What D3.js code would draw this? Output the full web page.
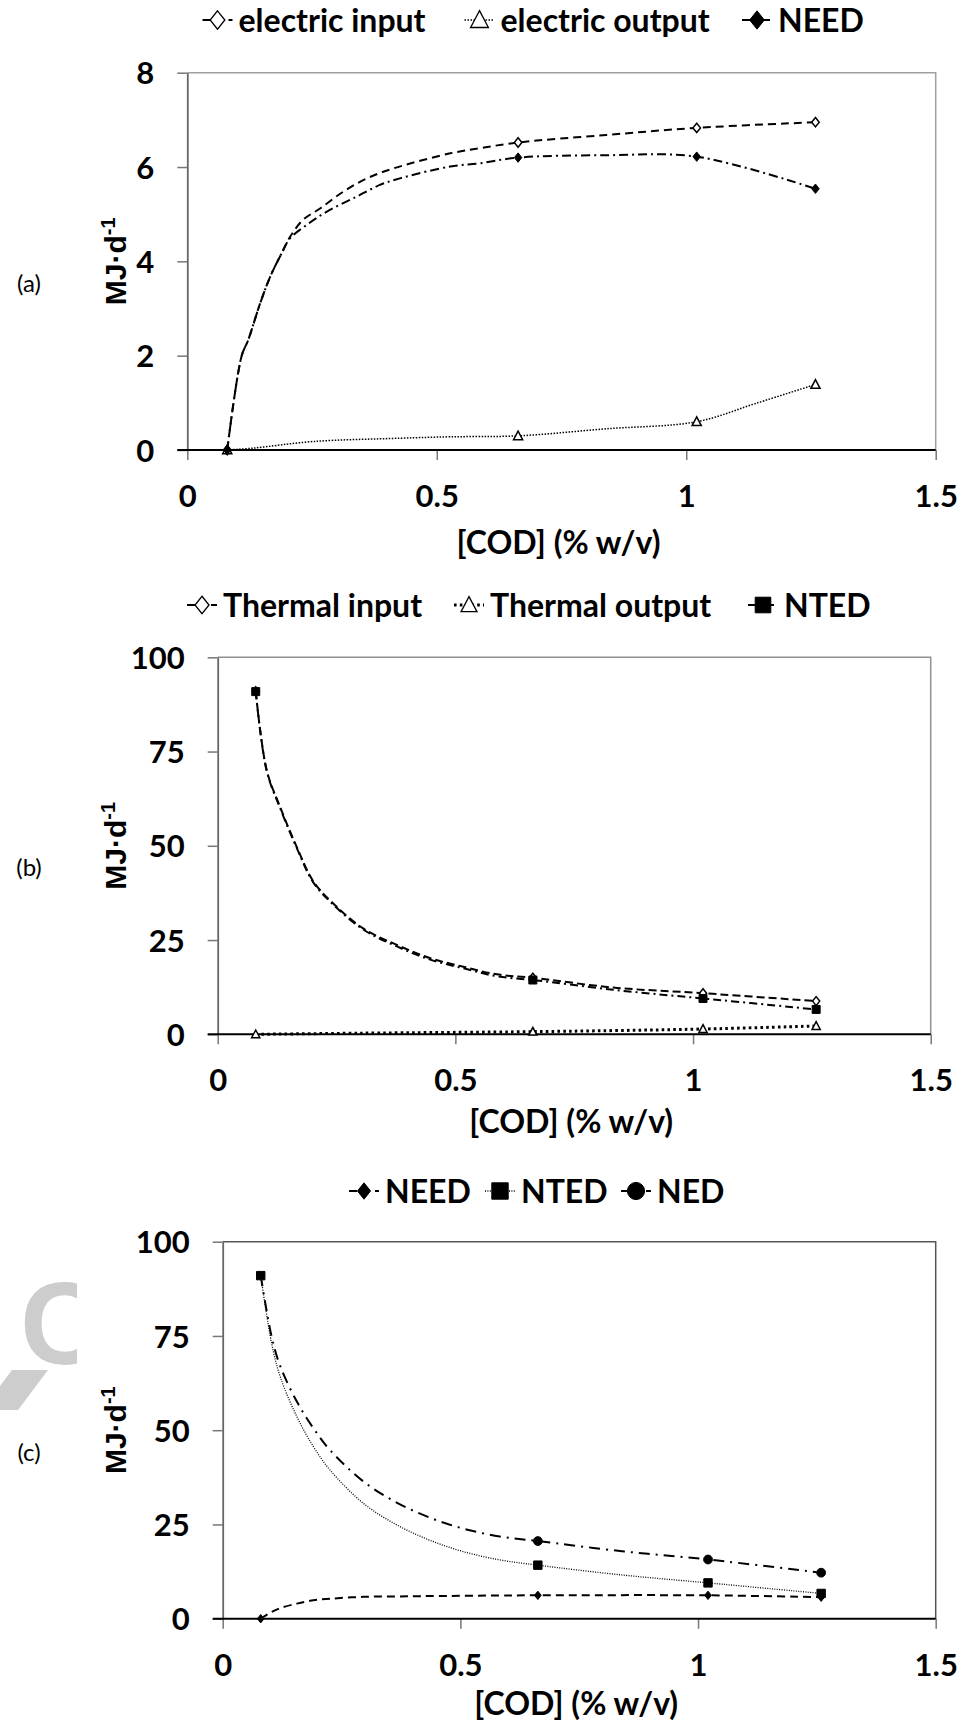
<!DOCTYPE html>
<html>
<head>
<meta charset="utf-8">
<script src="https://cdn.jsdelivr.net/npm/d3@7"></script>
<style>
  body { margin: 0; background: #fff; }
  svg { display: block; }
</style>
</head>
<body>
<svg id="chart" width="962" height="1726"></svg>
<script>
// measured COD concentrations (where the markers sit)
const codPoints = [0.08, 0.663, 1.021, 1.259];
const xTicks = [0, 0.5, 1, 1.5];

// (a) electric energy, markers
const elecInput = [0, 6.52, 6.83, 6.95];
const elecOutput = [0, 0.30, 0.60, 1.39];
const needA = [0, 6.20, 6.22, 5.54];
const yTicksA = [0, 2, 4, 6, 8];

// (a) smooth curves
const elecInputCurveX = [0.08, 0.109, 0.122, 0.146, 0.166, 0.189, 0.206, 0.232, 0.266, 0.313, 0.36, 0.413, 0.527, 0.587, 0.663, 0.84, 1.021, 1.259];
const elecInputCurveY = [0, 2.0, 2.33, 3.11, 3.67, 4.17, 4.52, 4.88, 5.12, 5.48, 5.76, 5.97, 6.29, 6.40, 6.52, 6.68, 6.83, 6.95];
const needACurveX = [0.08, 0.109, 0.122, 0.146, 0.166, 0.189, 0.206, 0.239, 0.279, 0.339, 0.386, 0.426, 0.527, 0.587, 0.663, 0.84, 1.021, 1.259];
const needACurveY = [0, 2.0, 2.33, 3.11, 3.67, 4.17, 4.49, 4.77, 5.05, 5.37, 5.62, 5.76, 6.01, 6.08, 6.20, 6.25, 6.22, 5.54];
const elecOutputCurveX = [0.08, 0.132, 0.253, 0.426, 0.527, 0.663, 0.84, 1.021, 1.14, 1.259];
const elecOutputCurveY = [0, 0.04, 0.18, 0.25, 0.28, 0.30, 0.45, 0.60, 0.99, 1.39];

// (b) thermal energy, markers
const thermInput = [91, 15.0, 10.9, 8.8];
const thermOutput = [0, 0.7, 1.4, 2.2];
const ntedB = [90.9, 14.4, 9.5, 6.6];
const yTicksB = [0, 25, 50, 75, 100];

// (b) curves
const thermInputCurveX = [0.08, 0.103, 0.131, 0.166, 0.201, 0.243, 0.306, 0.377, 0.447, 0.517, 0.587, 0.663, 0.832, 1.021, 1.259];
const thermInputCurveY = [91, 70.1, 60.4, 49.8, 40.6, 34.7, 28.1, 23.7, 20.2, 17.9, 15.9, 15.0, 12.4, 10.9, 8.8];
const ntedBCurveX = [0.08, 0.103, 0.131, 0.166, 0.201, 0.243, 0.306, 0.377, 0.447, 0.517, 0.587, 0.663, 0.832, 1.021, 1.259];
const ntedBCurveY = [90.9, 69.9, 60.1, 49.5, 40.3, 34.4, 27.8, 23.3, 19.8, 17.5, 15.4, 14.4, 11.8, 9.5, 6.6];
const thermOutputCurveX = [0.08, 0.3, 0.663, 0.84, 1.021, 1.259];
const thermOutputCurveY = [0, 0.3, 0.7, 1.0, 1.4, 2.2];

// (c) net energy, markers
const needC = [0, 6.2, 6.2, 5.7];
const ntedC = [91, 14.2, 9.5, 6.7];
const nedCodPoints = [0.663, 1.021, 1.259];
const nedC = [20.6, 15.7, 12.2];
const yTicksC = [0, 25, 50, 75, 100];

// (c) curves
const needCCurveX = [0.08, 0.103, 0.121, 0.156, 0.191, 0.226, 0.296, 0.366, 0.436, 0.583, 0.663, 1.021, 1.259];
const needCCurveY = [0, 1.8, 2.8, 4.0, 4.9, 5.3, 5.8, 5.9, 6.0, 6.15, 6.2, 6.2, 5.7];
const ntedCCurveX = [0.08, 0.103, 0.121, 0.156, 0.191, 0.226, 0.296, 0.366, 0.436, 0.506, 0.583, 0.663, 0.84, 1.021, 1.259];
const ntedCCurveY = [91, 73.0, 64.2, 53.6, 45.6, 39.4, 30.6, 24.9, 20.8, 17.8, 15.6, 14.2, 11.6, 9.5, 6.7];
const nedCCurveX = [0.08, 0.103, 0.121, 0.156, 0.191, 0.226, 0.296, 0.366, 0.436, 0.506, 0.583, 0.663, 0.84, 1.021, 1.259];
const nedCCurveY = [91, 74.8, 67.0, 57.6, 50.5, 44.7, 36.4, 30.8, 26.8, 23.9, 21.8, 20.6, 17.9, 15.7, 12.2];

const zip = (xs, ys) => xs.map((x, i) => [x, ys[i]]);

// marker shapes, size = radius squared
const shapes = {
  diamond: { draw(c, s) { const r = Math.sqrt(s); c.moveTo(0, -r); c.lineTo(r * 0.8, 0); c.lineTo(0, r); c.lineTo(-r * 0.8, 0); c.closePath(); } },
  triangle: { draw(c, s) { const r = Math.sqrt(s); c.moveTo(0, -r); c.lineTo(r * 0.95, r * 0.8); c.lineTo(-r * 0.95, r * 0.8); c.closePath(); } },
  square: { draw(c, s) { const r = Math.sqrt(s); c.rect(-r, -r, 2 * r, 2 * r); } },
  circle: { draw(c, s) { const r = Math.sqrt(s); c.moveTo(r, 0); c.arc(0, 0, r, 0, 2 * Math.PI); } }
};

const charts = [
  {
    label: "(a)", top: 72.7, bottom: 450, left: 187.3, right: 935.7, yMax: 8, yTicks: yTicksA,
    frame: "#a0a0a0", legendY: 20, titleGap: 92,
    series: [
      { name: "electric input", curve: zip(elecInputCurveX, elecInputCurveY), pts: zip(codPoints, elecInput), dash: "8,5", width: 2, marker: "diamond", r: 4.7, open: true, legendX: 217.5 },
      { name: "electric output", curve: zip(elecOutputCurveX, elecOutputCurveY), pts: zip(codPoints, elecOutput), dash: "1.5,1.5", width: 1.5, marker: "triangle", r: 4.8, open: true, legendX: 479.5 },
      { name: "NEED", curve: zip(needACurveX, needACurveY), pts: zip(codPoints, needA), dash: "9,4,2,4", width: 2, marker: "diamond", r: 4.7, open: false, legendX: 757 }
    ]
  },
  {
    label: "(b)", top: 657.3, bottom: 1034.3, left: 217.7, right: 930.7, yMax: 100, yTicks: yTicksB,
    frame: "#909090", legendY: 605, titleGap: 87,
    series: [
      { name: "Thermal input", curve: zip(thermInputCurveX, thermInputCurveY), pts: zip(codPoints, thermInput), dash: "8,4", width: 2, marker: "diamond", r: 4.5, open: true, legendX: 202 },
      { name: "Thermal output", curve: zip(thermOutputCurveX, thermOutputCurveY), pts: zip(codPoints, thermOutput), dash: "2.6,3.2", width: 3, marker: "triangle", r: 4.3, open: true, legendX: 469 },
      { name: "NTED", curve: zip(ntedBCurveX, ntedBCurveY), pts: zip(codPoints, ntedB), dash: "8,4,2,4", width: 2, marker: "square", r: 4, open: false, legendX: 763 }
    ]
  },
  {
    label: "(c)", top: 1241.7, bottom: 1618.7, left: 222.7, right: 935.7, yMax: 100, yTicks: yTicksC,
    frame: "#555", legendY: 1191, titleGap: 85,
    series: [
      { name: "NEED", curve: zip(needCCurveX, needCCurveY), pts: zip(codPoints, needC), dash: "8,5", width: 2, marker: "diamond", r: 4.2, open: false, legendX: 364 },
      { name: "NTED", curve: zip(ntedCCurveX, ntedCCurveY), pts: zip(codPoints, ntedC), dash: "1,1.4", width: 1.3, marker: "square", r: 4.2, open: false, legendX: 500 },
      { name: "NED", curve: zip(nedCCurveX, nedCCurveY), pts: zip(nedCodPoints, nedC), dash: "11,6,2,6", width: 2, marker: "circle", r: 4.4, open: false, legendX: 636 }
    ]
  }
];

const svg = d3.select("#chart");

// faint watermark pieces at the left of panel (c)
svg.append("clipPath").attr("id", "wmclip")
  .append("rect").attr("x", 0).attr("y", 1250).attr("width", 77).attr("height", 180);
const wm = svg.append("g").attr("clip-path", "url(#wmclip)").attr("fill", "#cdcdcd");
wm.append("text")
  .attr("x", 20).attr("y", 1364)
  .attr("font-family", "Liberation Sans, Arial, sans-serif")
  .attr("font-weight", 700).attr("font-size", 116)
  .text("C");
wm.append("path").attr("d", "M12,1370H48L18,1410H0V1386Z");

charts.forEach(ch => {
  const x = d3.scaleLinear().domain([0, 1.5]).range([ch.left, ch.right]);
  const y = d3.scaleLinear().domain([0, ch.yMax]).range([ch.bottom, ch.top]);
  const g = svg.append("g");

  // frame: top and right
  g.append("path")
    .attr("d", `M${ch.left},${ch.top}H${ch.right}V${ch.bottom}`)
    .attr("fill", "none").attr("stroke", ch.frame).attr("stroke-width", 1.5);

  // y axis
  const yAxis = d3.axisLeft(y).tickValues(ch.yTicks).tickSize(10).tickSizeOuter(0);
  const ya = g.append("g").attr("transform", `translate(${ch.left},0)`).call(yAxis);
  ya.select(".domain").attr("stroke", "#666").attr("stroke-width", 1.8);
  ya.selectAll(".tick line").attr("stroke", "#777").attr("stroke-width", 1.5);
  ya.selectAll(".tick text")
    .attr("x", -33).attr("dy", "0.36em")
    .attr("font-family", "Lato, sans-serif").attr("font-weight", 700).attr("font-size", 31)
    .attr("fill", "#000");

  // x axis at y = 0
  const xAxis = d3.axisBottom(x).tickValues(xTicks).tickSize(10).tickSizeOuter(0).tickFormat(d => String(d));
  const xa = g.append("g").attr("transform", `translate(0,${y(0)})`).call(xAxis);
  xa.select(".domain").remove();
  xa.selectAll(".tick line").attr("stroke", "#777").attr("stroke-width", 1.5);
  xa.selectAll(".tick text")
    .attr("y", 46).attr("dy", "0.36em")
    .attr("font-family", "Lato, sans-serif").attr("font-weight", 700).attr("font-size", 31)
    .attr("fill", "#000");
  g.append("line")
    .attr("x1", ch.left - 10).attr("x2", ch.right)
    .attr("y1", y(0)).attr("y2", y(0))
    .attr("stroke", "#000").attr("stroke-width", 2);

  // axis titles
  g.append("text")
    .attr("x", (ch.left + ch.right) / 2 - 3).attr("y", ch.bottom + ch.titleGap)
    .attr("text-anchor", "middle").attr("dy", "0.36em")
    .attr("font-family", "Lato, sans-serif").attr("font-weight", 700).attr("font-size", 32)
    .text("[COD] (% w/v)");

  const yt = g.append("text")
    .attr("transform", `translate(115,${(ch.top + ch.bottom) / 2}) rotate(-90)`)
    .attr("text-anchor", "middle").attr("dy", "0.36em")
    .attr("font-family", "Liberation Sans, Arial, sans-serif").attr("font-weight", 700).attr("font-size", 30);
  yt.append("tspan").text("MJ·d");
  yt.append("tspan").attr("dy", "-0.55em").attr("font-size", 20).text("-1");

  g.append("text")
    .attr("x", 29).attr("y", (ch.top + ch.bottom) / 2 + 22)
    .attr("text-anchor", "middle").attr("dy", "0.36em")
    .attr("font-family", "Lato, sans-serif").attr("font-size", 24)
    .text(ch.label);

  // lines
  const line = d3.line().x(d => x(d[0])).y(d => y(d[1])).curve(d3.curveCatmullRom.alpha(0.5));
  ch.series.forEach(s => {
    g.append("path")
      .attr("d", line(s.curve))
      .attr("fill", "none").attr("stroke", "#000")
      .attr("stroke-width", s.width).attr("stroke-dasharray", s.dash);
  });

  // markers
  ch.series.forEach(s => {
    const sym = d3.symbol().type(shapes[s.marker]).size(s.r * s.r);
    g.selectAll(null).data(s.pts).join("path")
      .attr("transform", d => `translate(${x(d[0])},${y(d[1])})`)
      .attr("d", sym)
      .attr("fill", s.open ? "#fff" : "#000")
      .attr("stroke", "#000").attr("stroke-width", s.open ? 1.5 : 1);
  });

  // legend: legendX is the centre of the sample marker
  ch.series.forEach(s => {
    const lg = g.append("g").attr("transform", `translate(${s.legendX},${ch.legendY})`);
    lg.append("line").attr("x1", -15).attr("x2", 15).attr("y1", 0).attr("y2", 0)
      .attr("stroke", "#000").attr("stroke-width", s.width).attr("stroke-dasharray", s.dash);
    const lr = s.r * 1.95;
    lg.append("path")
      .attr("d", d3.symbol().type(shapes[s.marker]).size(lr * lr))
      .attr("fill", s.open ? "#fff" : "#000")
      .attr("stroke", "#000").attr("stroke-width", s.open ? 1.3 : 1);
    lg.append("text")
      .attr("x", 21).attr("dy", "0.36em")
      .attr("font-family", "Lato, sans-serif").attr("font-weight", 700).attr("font-size", 32)
      .text(s.name);
  });
});
</script>
</body>
</html>
